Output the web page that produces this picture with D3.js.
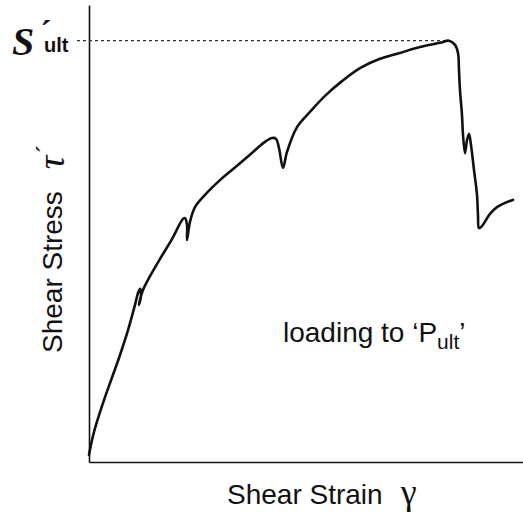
<!DOCTYPE html>
<html>
<head>
<meta charset="utf-8">
<script src="https://cdn.jsdelivr.net/npm/d3@7"></script>
<style>
  body { margin: 0; background: #fff; }
  svg { display: block; }
</style>
</head>
<body>
<script>
// strain (arbitrary units, 0-100 across the axis) and stress as a ratio of S'ult
var strain = [0, 0.69, 1.61, 3.69, 5.53, 7.14, 8.99, 10.6, 11.3, 11.75, 11.98, 11.52, 11.75, 12.44,
  14.06, 16.36, 19.12, 21.66, 22.12, 22.58, 22.58, 23.27, 24.42, 26.73, 30.18, 34.1, 37.79,
  40.55, 42.17, 43.09, 43.78, 44.7, 45.62, 47.93, 50.92, 54.38, 58.29, 62.44, 67.05, 71.66,
  76.27, 80.88, 82.95, 84.33, 85.02, 85.25, 85.48, 85.94, 86.18, 86.64, 87.1, 87.56, 88.02,
  88.71, 89.4, 89.63, 89.86, 90.55, 92.4, 94.0, 95.85, 97.7];
var stress = [0.017, 0.052, 0.088, 0.154, 0.207, 0.254, 0.313, 0.373, 0.401, 0.411, 0.394, 0.373, 0.385, 0.408,
  0.441, 0.482, 0.529, 0.577, 0.579, 0.563, 0.527, 0.570, 0.605, 0.634, 0.669, 0.703, 0.736,
  0.760, 0.769, 0.767, 0.745, 0.698, 0.736, 0.795, 0.831, 0.869, 0.904, 0.935, 0.957, 0.971,
  0.985, 0.995, 1.0, 0.990, 0.971, 0.930, 0.883, 0.824, 0.776, 0.733, 0.764, 0.779, 0.752,
  0.693, 0.634, 0.586, 0.555, 0.560, 0.589, 0.605, 0.615, 0.622];
var ultStress = 1.0;

var svgWidth = 523;
var svgHeight = 512;

var svg = d3.select("body")
  .append("svg")
  .attr("width", svgWidth)
  .attr("height", svgHeight);

var xScale = d3.scaleLinear().domain([0, 100]).range([89, 523]);
var yScale = d3.scaleLinear().domain([0, 1.0847]).range([462, 5]);

var data = strain.map(function(s, i) { return {x: s, y: stress[i]}; });

// axes without ticks, just the lines
svg.append("g")
  .attr("transform", "translate(89,0)")
  .call(d3.axisLeft(yScale).tickValues([]).tickSizeOuter(0))
  .select(".domain").attr("stroke", "#111").attr("stroke-width", 1.6);

svg.append("g")
  .attr("transform", "translate(0,462)")
  .call(d3.axisBottom(xScale).tickValues([]).tickSizeOuter(0))
  .select(".domain").attr("stroke", "#111").attr("stroke-width", 1.6);

// dotted line at S'ult
var peak = data[d3.maxIndex(data, function(d) { return d.y; })];
svg.append("line")
  .attr("x1", 77)
  .attr("x2", xScale(peak.x))
  .attr("y1", yScale(ultStress))
  .attr("y2", yScale(ultStress))
  .attr("stroke", "#333")
  .attr("stroke-width", 1.2)
  .attr("stroke-dasharray", "3,3");

// the curve
var line = d3.line()
  .x(function(d) { return xScale(d.x); })
  .y(function(d) { return yScale(d.y); })
  .curve(d3.curveCatmullRom.alpha(0.5));

svg.append("path")
  .datum(data)
  .attr("fill", "none")
  .attr("stroke", "#111")
  .attr("stroke-width", 2.6)
  .attr("stroke-linejoin", "round")
  .attr("stroke-linecap", "round")
  .attr("d", line);

// S'ult label, pieces side by side
svg.append("text")
  .attr("x", 12)
  .attr("y", 55)
  .attr("font-family", "Liberation Serif, Times New Roman, serif")
  .attr("font-weight", "bold")
  .attr("font-style", "italic")
  .attr("font-size", "40px")
  .attr("fill", "#111")
  .text("S");
svg.append("text")
  .attr("x", 46)
  .attr("y", 44)
  .attr("text-anchor", "middle")
  .attr("font-family", "Liberation Serif, serif")
  .attr("font-weight", "bold")
  .attr("font-size", "34px")
  .attr("fill", "#111")
  .text("´");
svg.append("text")
  .attr("x", 44)
  .attr("y", 52)
  .attr("font-family", "Liberation Sans, Arial, sans-serif")
  .attr("font-weight", "bold")
  .attr("font-size", "20px")
  .attr("fill", "#111")
  .text("ult");

// y axis label
var yLabel = svg.append("text")
  .attr("transform", "translate(62,353) rotate(-90)")
  .attr("font-family", "Liberation Sans, Arial, sans-serif")
  .attr("font-size", "28px")
  .attr("fill", "#111");
yLabel.append("tspan").text("Shear Stress");
yLabel.append("tspan")
  .attr("font-family", "Liberation Serif, serif")
  .attr("font-style", "italic")
  .attr("font-size", "38px")
  .attr("dx", 22)
  .attr("dy", 2)
  .text("τ");
yLabel.append("tspan")
  .attr("font-family", "Liberation Serif, serif")
  .attr("font-size", "26px")
  .attr("dx", 2)
  .attr("dy", -10)
  .text("´");

// x axis label
var xLabel = svg.append("text")
  .attr("x", 227)
  .attr("y", 504)
  .attr("font-family", "Liberation Sans, Arial, sans-serif")
  .attr("font-size", "28px")
  .attr("fill", "#111");
xLabel.append("tspan").text("Shear Strain");
xLabel.append("tspan")
  .attr("font-family", "Liberation Serif, serif")
  .attr("font-size", "36px")
  .attr("dx", 18)
  .text("γ");

// annotation
var note = svg.append("text")
  .attr("x", 283)
  .attr("y", 342)
  .attr("font-family", "Liberation Sans, Arial, sans-serif")
  .attr("font-size", "28px")
  .attr("fill", "#111");
note.append("tspan").text("loading to ‘P");
note.append("tspan")
  .attr("font-size", "21px")
  .attr("dy", 7)
  .text("ult");
note.append("tspan")
  .attr("dy", -7)
  .text("’");
</script>
</body>
</html>
